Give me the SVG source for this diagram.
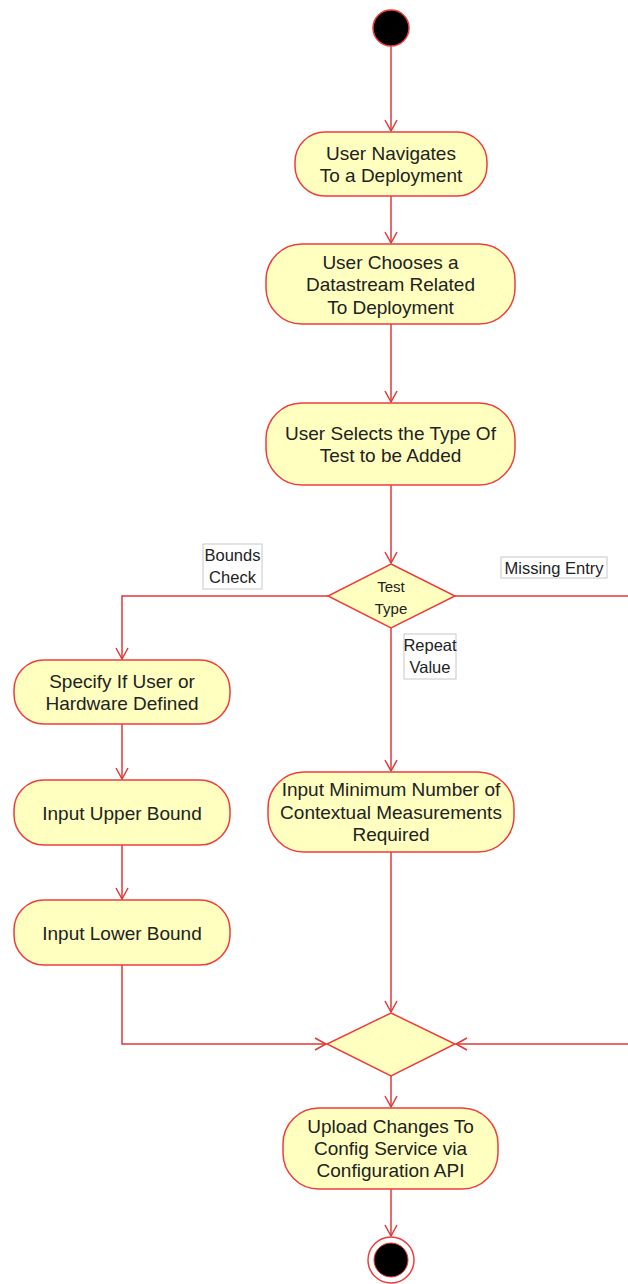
<svg xmlns="http://www.w3.org/2000/svg" width="628" height="1284" viewBox="0 0 628 1284">
<style>
.node{fill:#ffffc0;stroke:#f03c3c;stroke-width:1.5}
.t{font-family:"Liberation Sans",Arial,sans-serif;font-size:19px;fill:#222;text-anchor:middle}
.dt{font-family:"Liberation Sans",Arial,sans-serif;font-size:15px;fill:#222;text-anchor:middle}
.lbl{fill:#fff;stroke:#c8c8c8;stroke-width:1}
.lt{font-family:"Liberation Sans",Arial,sans-serif;font-size:16.5px;fill:#222;text-anchor:middle}
.edge{fill:none;stroke:#e03a3a;stroke-width:1.5}
</style>
<defs>
<marker id="arr" markerUnits="userSpaceOnUse" markerWidth="16" markerHeight="16" viewBox="-12 -8 14 16" refX="0" refY="0" orient="auto">
<path d="M-11,-6 L0,0 L-11,6" fill="none" stroke="#e03a3a" stroke-width="1.5"/>
</marker>
</defs>
<g id="connectors">
<line class="edge" x1="391" y1="46" x2="391" y2="131" marker-end="url(#arr)"/>
<line class="edge" x1="391" y1="196" x2="391" y2="243" marker-end="url(#arr)"/>
<line class="edge" x1="391" y1="324" x2="391" y2="402" marker-end="url(#arr)"/>
<line class="edge" x1="391" y1="485" x2="391" y2="563" marker-end="url(#arr)"/>
<polyline class="edge" points="328,596 122,596 122,659" marker-end="url(#arr)"/>
<polyline class="edge" points="455,596 630,596 630,1044 456,1044" marker-end="url(#arr)"/>
<line class="edge" x1="391" y1="628" x2="391" y2="771" marker-end="url(#arr)"/>
<line class="edge" x1="122" y1="724" x2="122" y2="779" marker-end="url(#arr)"/>
<line class="edge" x1="122" y1="845" x2="122" y2="899" marker-end="url(#arr)"/>
<polyline class="edge" points="122,965 122,1044 326,1044" marker-end="url(#arr)"/>
<line class="edge" x1="391" y1="852" x2="391" y2="1012" marker-end="url(#arr)"/>
<line class="edge" x1="391" y1="1076" x2="391" y2="1107" marker-end="url(#arr)"/>
<line class="edge" x1="391" y1="1189" x2="391" y2="1236" marker-end="url(#arr)"/>
<rect class="lbl" x="203" y="544" width="59" height="45"/>
<text class="lt" x="232.5" y="561">Bounds</text>
<text class="lt" x="232.5" y="583">Check</text>
<rect class="lbl" x="501" y="557" width="106" height="21"/>
<text class="lt" x="554" y="573.5">Missing Entry</text>
<rect class="lbl" x="404" y="634" width="52" height="45"/>
<text class="lt" x="430" y="651">Repeat</text>
<text class="lt" x="430" y="673">Value</text>
</g>
<g id="start">
<circle cx="391" cy="28" r="18" fill="#000" stroke="#f03c3c" stroke-width="1.5"/>
</g>
<g id="n1">
<rect class="node" x="295" y="132" width="192" height="64" rx="30"/>
<text class="t" x="391" y="160">User Navigates</text>
<text class="t" x="391" y="182">To a Deployment</text>
</g>
<g id="n2">
<rect class="node" x="266" y="244" width="249" height="80" rx="36"/>
<text class="t" x="390.5" y="268.5">User Chooses a</text>
<text class="t" x="390.5" y="291">Datastream Related</text>
<text class="t" x="390.5" y="313.5">To Deployment</text>
</g>
<g id="n3">
<rect class="node" x="266" y="403" width="249" height="82" rx="36"/>
<text class="t" x="390.5" y="440">User Selects the Type Of</text>
<text class="t" x="390.5" y="462">Test to be Added</text>
</g>
<g id="decision">
<polygon class="node" points="391,564 455,596 391,628 328,596"/>
<text class="dt" x="391" y="592">Test</text>
<text class="dt" x="391" y="614">Type</text>
</g>
<g id="n4">
<rect class="node" x="14" y="660" width="216" height="64" rx="30"/>
<text class="t" x="122" y="688">Specify If User or</text>
<text class="t" x="122" y="710">Hardware Defined</text>
</g>
<g id="n5">
<rect class="node" x="14" y="780" width="216" height="65" rx="30"/>
<text class="t" x="122" y="820">Input Upper Bound</text>
</g>
<g id="n6">
<rect class="node" x="14" y="900" width="216" height="65" rx="30"/>
<text class="t" x="122" y="940">Input Lower Bound</text>
</g>
<g id="n7">
<rect class="node" x="268" y="772" width="246" height="80" rx="36"/>
<text class="t" x="391" y="796">Input Minimum Number of</text>
<text class="t" x="391" y="818.5">Contextual Measurements</text>
<text class="t" x="391" y="841">Required</text>
</g>
<g id="merge">
<polygon class="node" points="391,1013 455,1044 391,1076 327,1044"/>
</g>
<g id="n8">
<rect class="node" x="283" y="1108" width="215" height="81" rx="36"/>
<text class="t" x="390.5" y="1133">Upload Changes To</text>
<text class="t" x="390.5" y="1155">Config Service via</text>
<text class="t" x="390.5" y="1177">Configuration API</text>
</g>
<g id="end">
<circle cx="391" cy="1260" r="23" fill="#fff" stroke="#f03c3c" stroke-width="1.5"/>
<circle cx="391" cy="1260" r="17" fill="#000" stroke="#f03c3c" stroke-width="1"/>
</g>
</svg>
